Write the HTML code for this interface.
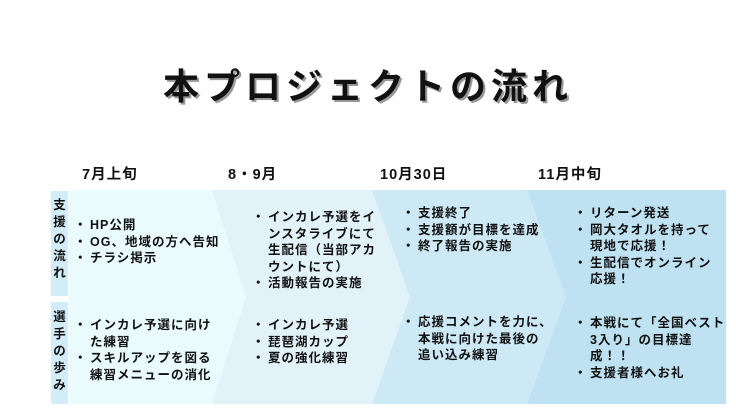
<!DOCTYPE html>
<html><head><meta charset="utf-8"><style>
body{margin:0;width:736px;height:414px;background:#fff;position:relative;overflow:hidden;font-family:"Liberation Sans","Noto Sans CJK JP",sans-serif;font-weight:bold;color:#111}
.t{position:absolute;font-size:12.5px;line-height:16.5px;letter-spacing:1px;white-space:nowrap}
.h{position:absolute;font-size:14.5px;letter-spacing:1px;top:163px}
.lab{position:absolute;left:51px;width:17px;background:#d3edf8;font-size:12.5px;line-height:17px;text-align:center}
.b{position:absolute;margin-left:-16px}
</style></head><body>
<div style="position:absolute;left:0;top:58px;width:736px;text-align:center;font-size:36px;letter-spacing:5px;text-shadow:2px 2px 0 #999;">本プロジェクトの流れ</div>
<svg width="736" height="414" style="position:absolute;left:0;top:0">
<polygon points="69,190 726,190 726,404 69,404" fill="#bfe2f2"/>
<polygon points="69,190 527,190 566,297 527,404 69,404" fill="#cde9f5"/>
<polygon points="69,190 372,190 410,297 372,404 69,404" fill="#e2f2f9"/>
<polygon points="69,190 212,190 246,297 212,404 69,404" fill="#e9fbfd"/>
</svg>
<div class="lab" style="top:191px;height:105px;padding-top:6px;box-sizing:border-box">支<br>援<br>の<br>流<br>れ</div>
<div class="lab" style="top:302px;height:102px;padding-top:7px;box-sizing:border-box">選<br>手<br>の<br>歩<br>み</div>
<div class="h" style="left:82px">7月上旬</div>
<div class="h" style="left:228px">8・9月</div>
<div class="h" style="left:380px">10月30日</div>
<div class="h" style="left:538px">11月中旬</div>

<div class="t" style="left:90px;top:217px">
<span class="b">・</span>HP公開<br><span class="b">・</span>OG、地域の方へ告知<br><span class="b">・</span>チラシ掲示</div>
<div class="t" style="left:268px;top:209px">
<span class="b">・</span>インカレ予選をイ<br>ンスタライブにて<br>生配信（当部アカ<br>ウントにて）<br><span class="b">・</span>活動報告の実施</div>
<div class="t" style="left:418px;top:205px">
<span class="b">・</span>支援終了<br><span class="b">・</span>支援額が目標を達成<br><span class="b">・</span>終了報告の実施</div>
<div class="t" style="left:590px;top:205px">
<span class="b">・</span>リターン発送<br><span class="b">・</span>岡大タオルを持って<br>現地で応援！<br><span class="b">・</span>生配信でオンライン<br>応援！</div>

<div class="t" style="left:90px;top:317px">
<span class="b">・</span>インカレ予選に向け<br>た練習<br><span class="b">・</span>スキルアップを図る<br>練習メニューの消化</div>
<div class="t" style="left:268px;top:317px">
<span class="b">・</span>インカレ予選<br><span class="b">・</span>琵琶湖カップ<br><span class="b">・</span>夏の強化練習</div>
<div class="t" style="left:418px;top:314px">
<span class="b">・</span>応援コメントを力に、<br>本戦に向けた最後の<br>追い込み練習</div>
<div class="t" style="left:590px;top:315px">
<span class="b">・</span>本戦にて「全国ベスト<br>3入り」の目標達<br>成！！<br><span class="b">・</span>支援者様へお礼</div>
</body></html>
